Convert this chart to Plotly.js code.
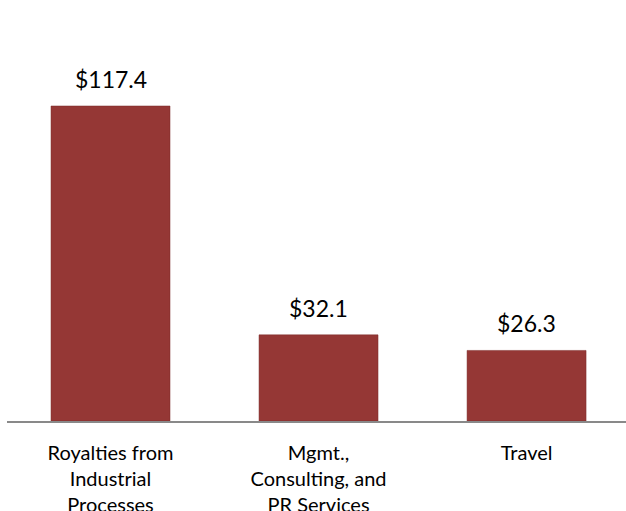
<!DOCTYPE html>
<html>
<head>
<meta charset="utf-8">
<script src="https://cdn.plot.ly/plotly-3.0.1.min.js"></script>
<style>html,body{margin:0;padding:0;background:#fff;}#chart{width:626px;height:511px;}</style>
</head>
<body>
<div id="chart"></div>
<script>
const categories = ["Royalties from<br>Industrial<br>Processes", "Mgmt.,<br>Consulting, and<br>PR Services", "Travel"];
const values = [117.4, 32.1, 26.3];
const valueLabels = ["$117.4", "$32.1", "$26.3"];

const trace = {
  type: "bar",
  x: categories,
  y: values,
  marker: {color: "#953735", line: {color: "#7a2a28", width: 0.5}},
  hoverinfo: "none"
};

const annotations = categories.map((c, i) => ({
  x: c, y: values[i], xref: "x", yref: "y",
  text: valueLabels[i], showarrow: false,
  yanchor: "bottom", yshift: 11,
  font: {family: "Lato, 'Open Sans', sans-serif", size: 23, color: "#000"}
}));

const layout = {
  width: 626, height: 511,
  margin: {l: 7, r: 0, t: 0, b: 90, pad: 0},
  paper_bgcolor: "#fff", plot_bgcolor: "#fff",
  showlegend: false,
  bargap: 0.428,
  xaxis: {
    range: [-0.4976, 2.478],
    showline: true, linecolor: "#898989", linewidth: 2,
    ticks: "", showgrid: false, zeroline: false,
    tickfont: {family: "Lato, 'Open Sans', sans-serif", size: 20, color: "#000"},
    ticklabelstandoff: 13
  },
  yaxis: {
    range: [0, 156.9], visible: false, showgrid: false, zeroline: false
  },
  annotations: annotations
};

Plotly.newPlot("chart", [trace], layout, {displayModeBar: false, staticPlot: true});
</script>
</body>
</html>
